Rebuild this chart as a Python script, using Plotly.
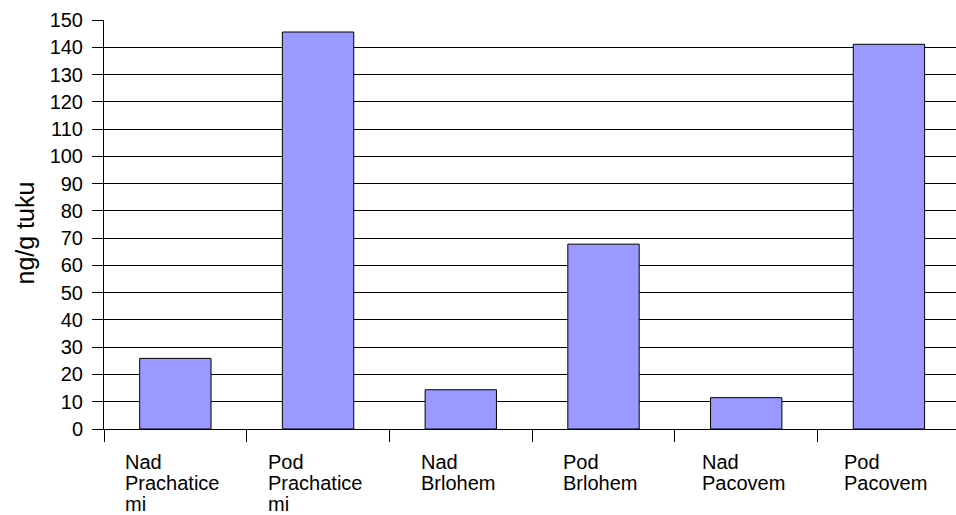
import plotly.graph_objects as go

# Site labels (each line drawn separately, left-aligned within a centred block)
categories = ["Nad Prachatice mi", "Pod Prachatice mi", "Nad Brlohem",
              "Pod Brlohem", "Nad Pacovem", "Pod Pacovem"]
label_lines = [["Nad", "Prachatice", "mi"], ["Pod", "Prachatice", "mi"],
               ["Nad", "Brlohem"], ["Pod", "Brlohem"],
               ["Nad", "Pacovem"], ["Pod", "Pacovem"]]
values = [25.9, 145.6, 14.4, 67.8, 11.5, 141.1]
y_ticks = list(range(0, 151, 10))
y_title = "ng/g tuku"

FONT = "Liberation Sans, Arial, sans-serif"
FS = 20
LINE_H = 21

# Approximate Arial advance widths (per 1000 em) for centring label blocks
ARIAL_W = {"N": 722, "a": 556, "d": 556, "P": 667, "r": 333, "c": 500,
           "h": 556, "t": 278, "i": 222, "e": 556, "m": 833, "o": 556,
           "B": 667, "l": 222, "v": 500}


def text_width(s):
    return sum(ARIAL_W.get(ch, 556) for ch in s) * FS / 1000.0


fig = go.Figure()
fig.add_trace(go.Bar(
    x=categories, y=values,
    marker=dict(color="#9999FF", line=dict(color="#000000", width=1)),
))

annotations = []
for cat, lines in zip(categories, label_lines):
    block_w = max(text_width(s) for s in lines)
    for i, line in enumerate(lines):
        annotations.append(dict(
            x=cat, xref="x", y=0, yref="paper",
            text=line, showarrow=False, xanchor="left", yanchor="top",
            xshift=-block_w / 2 - 4, yshift=-(21 + i * LINE_H), borderpad=0,
            font=dict(family=FONT, size=FS, color="#000000"),
        ))

annotations.append(dict(
    x=0, xref="paper", y=0.5, yref="paper", text=y_title, showarrow=False,
    textangle=-90, xanchor="center", yanchor="middle", xshift=-80, yshift=-9,
    font=dict(family=FONT, size=25, color="#000000"),
))

fig.update_layout(
    width=956, height=515,
    margin=dict(l=104, r=0, t=20, b=86),
    paper_bgcolor="#FFFFFF", plot_bgcolor="#FFFFFF",
    bargap=0.5, showlegend=False,
    font=dict(family=FONT, size=FS, color="#000000"),
    annotations=annotations,
)
fig.update_xaxes(
    type="category", range=[-0.5, 5.47],
    tickson="boundaries", ticks="outside", ticklen=12, tickcolor="#000000",
    tickwidth=1, showticklabels=False, showgrid=False,
    showline=True, linecolor="#000000", linewidth=1, zeroline=False,
)
fig.update_yaxes(
    range=[0, 150], tickvals=y_ticks, ticks="outside", ticklen=11,
    tickcolor="#000000", tickwidth=1, ticklabelstandoff=5,
    showgrid=True, gridcolor="#000000", gridwidth=1,
    showline=True, linecolor="#000000", linewidth=1, zeroline=False,
    tickfont=dict(family=FONT, size=FS, color="#000000"),
)

fig.write_html("out.html")
